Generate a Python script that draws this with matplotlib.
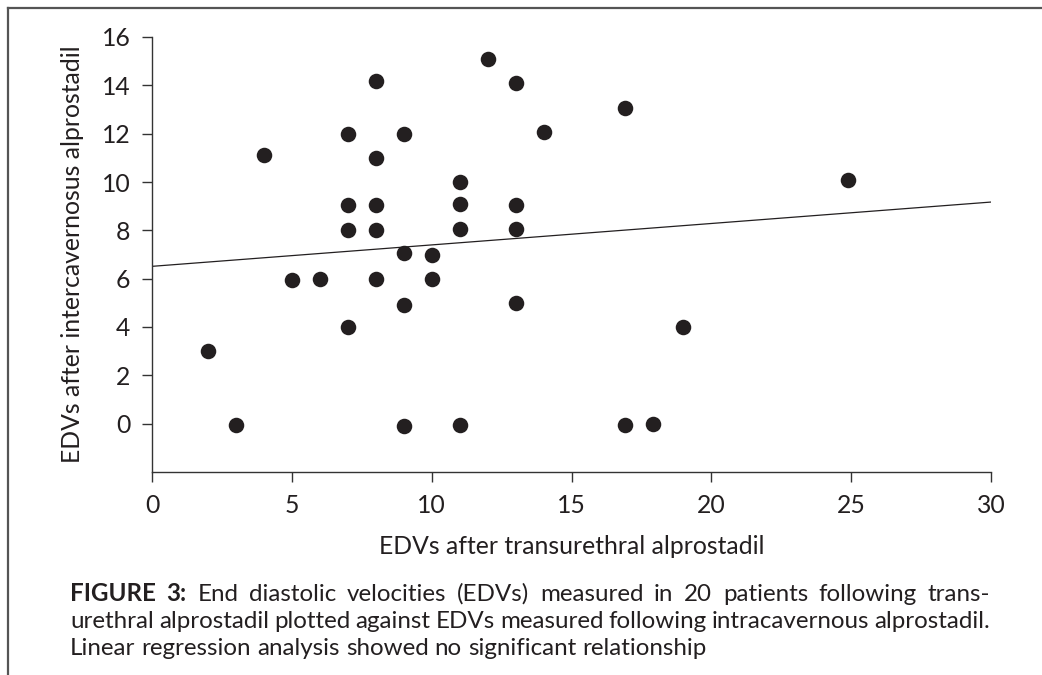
import matplotlib
matplotlib.use("Agg")
import matplotlib.pyplot as plt
from matplotlib.lines import Line2D

# ---- data ----
x_vals = [12, 8, 13, 7, 9, 14, 4, 8, 11, 7, 8, 11, 13, 7, 8, 11, 13, 9, 10,
          5, 6, 8, 10, 9, 13, 7, 2, 3, 9, 11, 16.9, 24.9, 19, 16.9, 17.9]
y_vals = [15.1, 14.2, 14.1, 12, 12, 12.05, 11.1, 11, 10, 9.05, 9.05, 9.1, 9.05,
          8, 8, 8.05, 8.05, 7.05, 7, 5.95, 6, 6, 6, 4.9, 5, 4, 3, -0.05, -0.1,
          -0.05, 13.05, 10.1, 4, -0.05, 0]
reg_x = [0, 30]
reg_y = [6.51, 9.17]
x_ticks = [0, 5, 10, 15, 20, 25, 30]
y_ticks = [0, 2, 4, 6, 8, 10, 12, 14, 16]
x_label = "EDVs after transurethral alprostadil"
y_label = "EDVs after intercavernosus alprostadil"
caption_lines = [
    [("FIGURE", True), ("3:", True), ("End", False), ("diastolic", False),
     ("velocities", False), ("(EDVs)", False), ("measured", False), ("in", False),
     ("20", False), ("patients", False), ("following", False), ("trans-", False)],
    [("urethral", False), ("alprostadil", False), ("plotted", False), ("against", False),
     ("EDVs", False), ("measured", False), ("following", False),
     ("intracavernous", False), ("alprostadil.", False)],
    [("Linear", False), ("regression", False), ("analysis", False), ("showed", False),
     ("no", False), ("significant", False), ("relationship", False)],
]

FONT = "Lato"
TXT = "#231f20"
W, H = 1042, 675
fig = plt.figure(figsize=(W / 100, H / 100), dpi=100)
plt.rcParams['font.family'] = [FONT, 'DejaVu Sans']

ax = fig.add_axes([152 / W, 1 - 472 / H, (991 - 152) / W, (472 - 37) / H])
ax.scatter(x_vals, y_vals, s=15.5 ** 2 * 0.52, color=TXT, zorder=3, linewidths=0)
ax.plot(reg_x, reg_y, color=TXT, lw=0.9, zorder=2)
ax.set_xlim(0, 30)
ax.set_ylim(-2, 16)
ax.set_xticks(x_ticks)
ax.set_yticks(y_ticks)
for s in ["top", "right"]:
    ax.spines[s].set_visible(False)
for s in ["left", "bottom"]:
    ax.spines[s].set_color("#333333")
    ax.spines[s].set_linewidth(1.0)
ax.tick_params(axis="both", direction="out", length=7.5, width=1.0, color="#333333",
               labelsize=17.8, labelcolor=TXT, pad=8)
ax.set_xlabel(x_label, fontsize=17.8, color=TXT, labelpad=13)
ax.set_ylabel(y_label, fontsize=17.8, color=TXT, labelpad=13)

# frame lines (figure border)
fig.add_artist(Line2D([8 / W, 1], [1 - 8 / H, 1 - 8 / H], transform=fig.transFigure,
                      color="#555555", lw=1.6))
fig.add_artist(Line2D([8 / W, 8 / W], [1 - 8 / H, 0], transform=fig.transFigure,
                      color="#555555", lw=1.6))

# justified caption
renderer = fig.canvas.get_renderer()
left_px, right_px = 70, 990
baselines = [601, 628, 655]
cap_size = 17.4
space_t = fig.text(0, 0, "a a", fontsize=cap_size)
aa = fig.text(0, 0, "aa", fontsize=cap_size)
space_w = space_t.get_window_extent(renderer).width - aa.get_window_extent(renderer).width
space_t.remove(); aa.remove()
for li, words in enumerate(caption_lines):
    texts = []
    widths = []
    for w, bold in words:
        t = fig.text(0, 1 - baselines[li] / H, w, fontsize=cap_size, color=TXT,
                     fontweight="bold" if bold else "normal", va="baseline", ha="left")
        texts.append(t)
        widths.append(t.get_window_extent(renderer).width)
    if li < len(caption_lines) - 1:
        gap = (right_px - left_px - sum(widths)) / (len(words) - 1)
    else:
        gap = space_w
    xpos = left_px
    for t, wd in zip(texts, widths):
        t.set_x(xpos / W)
        xpos += wd + gap

fig.savefig("out.png", dpi=100, facecolor="white")
